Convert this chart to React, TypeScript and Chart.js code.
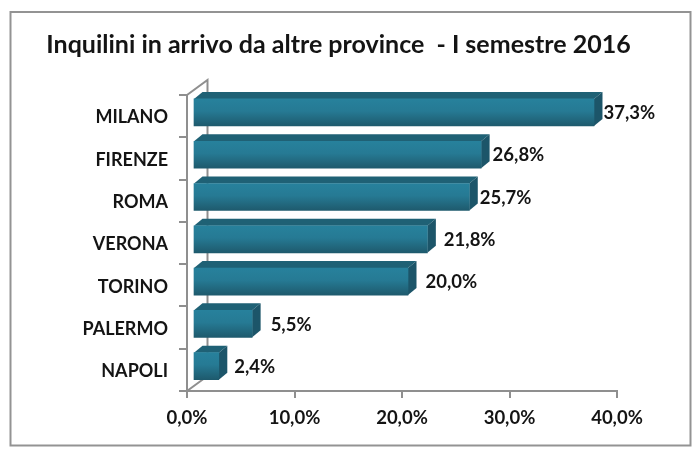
import React, { useEffect, useRef } from "react";
import { Chart, registerables } from "chart.js";

Chart.register(...registerables);

const categories = ["MILANO", "FIRENZE", "ROMA", "VERONA", "TORINO", "PALERMO", "NAPOLI"];
const shares = [37.3, 26.8, 25.7, 21.8, 20.0, 5.5, 2.4];
const labelNudges = [1, 3, 2, 8, 9, 10, 7];

const fmt = (v: number) => v.toFixed(1).replace(".", ",") + "%";
const FONT = "Lato, Carlito, sans-serif";
const INK = "#141414";
const AXIS = "#8f8f8f";
const SHIFT_X = 6;
const SHIFT_Y = -3.7;
const DEPTH_X = 8.5;
const DEPTH_Y = 7;

const scene3d = {
  id: "scene3d",
  beforeDatasetsDraw(chart: any) {
    const { ctx, chartArea: a } = chart;
    ctx.save();
    ctx.strokeStyle = AXIS;
    ctx.lineWidth = 2;
    ctx.beginPath();
    ctx.moveTo(a.left, a.top);
    ctx.lineTo(a.left + 20.5, a.top - 15);
    ctx.lineTo(a.left + 20.5, a.bottom - 15);
    ctx.lineTo(a.left, a.bottom);
    ctx.stroke();
    ctx.restore();

    const meta = chart.getDatasetMeta(0);
    ctx.save();
    ctx.translate(SHIFT_X, SHIFT_Y);
    meta.data.forEach((bar: any) => {
      const top = bar.y - bar.height / 2;
      const bottom = bar.y + bar.height / 2;
      ctx.fillStyle = "#1f6175";
      ctx.beginPath();
      ctx.moveTo(bar.base, top);
      ctx.lineTo(bar.base + DEPTH_X, top - DEPTH_Y);
      ctx.lineTo(bar.x + DEPTH_X, top - DEPTH_Y);
      ctx.lineTo(bar.x, top);
      ctx.closePath();
      ctx.fill();
      ctx.fillStyle = "#1c5569";
      ctx.beginPath();
      ctx.moveTo(bar.x, top);
      ctx.lineTo(bar.x + DEPTH_X, top - DEPTH_Y);
      ctx.lineTo(bar.x + DEPTH_X, bottom - DEPTH_Y);
      ctx.lineTo(bar.x, bottom);
      ctx.closePath();
      ctx.fill();
    });
    // the bar fronts that the library draws next stay in this shifted frame
  },
  afterDatasetsDraw(chart: any) {
    const { ctx } = chart;
    ctx.restore();
    const meta = chart.getDatasetMeta(0);
    ctx.save();
    ctx.font = `bold 18.5px ${FONT}`;
    ctx.fillStyle = INK;
    ctx.textAlign = "left";
    ctx.textBaseline = "middle";
    meta.data.forEach((bar: any, i: number) => {
      ctx.fillText(fmt(shares[i]), bar.x + SHIFT_X + DEPTH_X + labelNudges[i], bar.y - 3);
    });
    ctx.restore();
  },
};

const frame = {
  id: "frame",
  beforeDraw(chart: any) {
    const { ctx } = chart;
    ctx.save();
    ctx.fillStyle = "#ffffff";
    ctx.fillRect(0, 0, chart.width, chart.height);
    ctx.strokeStyle = "#939393";
    ctx.lineWidth = 2;
    ctx.strokeRect(10.5, 12, 680, 433.5);
    ctx.restore();
    // widen the title's box so its text is not squeezed to the plot's width
    if (chart.titleBlock) {
      chart.titleBlock.left = 30;
      chart.titleBlock.right = 647;
    }
  },
};

export default function App() {
  const ref = useRef<HTMLCanvasElement | null>(null);
  useEffect(() => {
    if (!ref.current) return;
    const chart = new Chart(ref.current, {
      type: "bar",
      data: {
        labels: categories,
        datasets: [
          {
            data: shares,
            barThickness: 27,
            backgroundColor: (c: any) => {
              const { chart: ch, dataIndex } = c;
              const y = ch.scales.y ? ch.scales.y.getPixelForValue(dataIndex) : NaN;
              if (!Number.isFinite(y)) return "#267a94";
              const g = ch.ctx.createLinearGradient(0, y - 13.5, 0, y + 13.5);
              g.addColorStop(0, "#27819c");
              g.addColorStop(0.45, "#267a94");
              g.addColorStop(1, "#1e5a6d");
              return g;
            },
          },
        ],
      },
      options: {
        indexAxis: "y",
        animation: false,
        responsive: false,
        layout: { padding: { left: 60, right: 83, top: 0, bottom: 0 } },
        plugins: {
          legend: { display: false },
          tooltip: { enabled: false },
          title: {
            display: true,
            text: "Inquilini in arrivo da altre province  - I semestre 2016",
            color: INK,
            font: { family: FONT, size: 25, weight: "bold" },
            padding: { top: 30, bottom: 35 },
          },
        },
        scales: {
          x: {
            min: 0,
            max: 40,
            ticks: {
              stepSize: 10,
              callback: (v: any) => fmt(Number(v)),
              color: INK,
              font: { family: FONT, size: 18.5, weight: "bold" },
              padding: 9,
              maxRotation: 0,
            },
            grid: { drawOnChartArea: false, color: AXIS, lineWidth: 2, tickLength: 7 },
            border: { color: AXIS, width: 2 },
            afterFit: (s: any) => { s.height = 84; },
          },
          y: {
            ticks: {
              color: INK,
              font: { family: FONT, size: 18, weight: "bold" },
              padding: 11,
              labelOffset: 1.5,
            },
            grid: { drawOnChartArea: false, color: AXIS, lineWidth: 2, tickLength: 8 },
            border: { color: AXIS, width: 2 },
            afterFit: (s: any) => { s.width = 127; },
          },
        },
      },
      plugins: [frame, scene3d],
    } as any);
    return () => chart.destroy();
  }, []);
  return (
    <div style={{ position: "absolute", left: 0, top: 0, width: 700, height: 475 }}>
      <canvas ref={ref} width={700} height={475} style={{ display: "block" }} />
    </div>
  );
}
